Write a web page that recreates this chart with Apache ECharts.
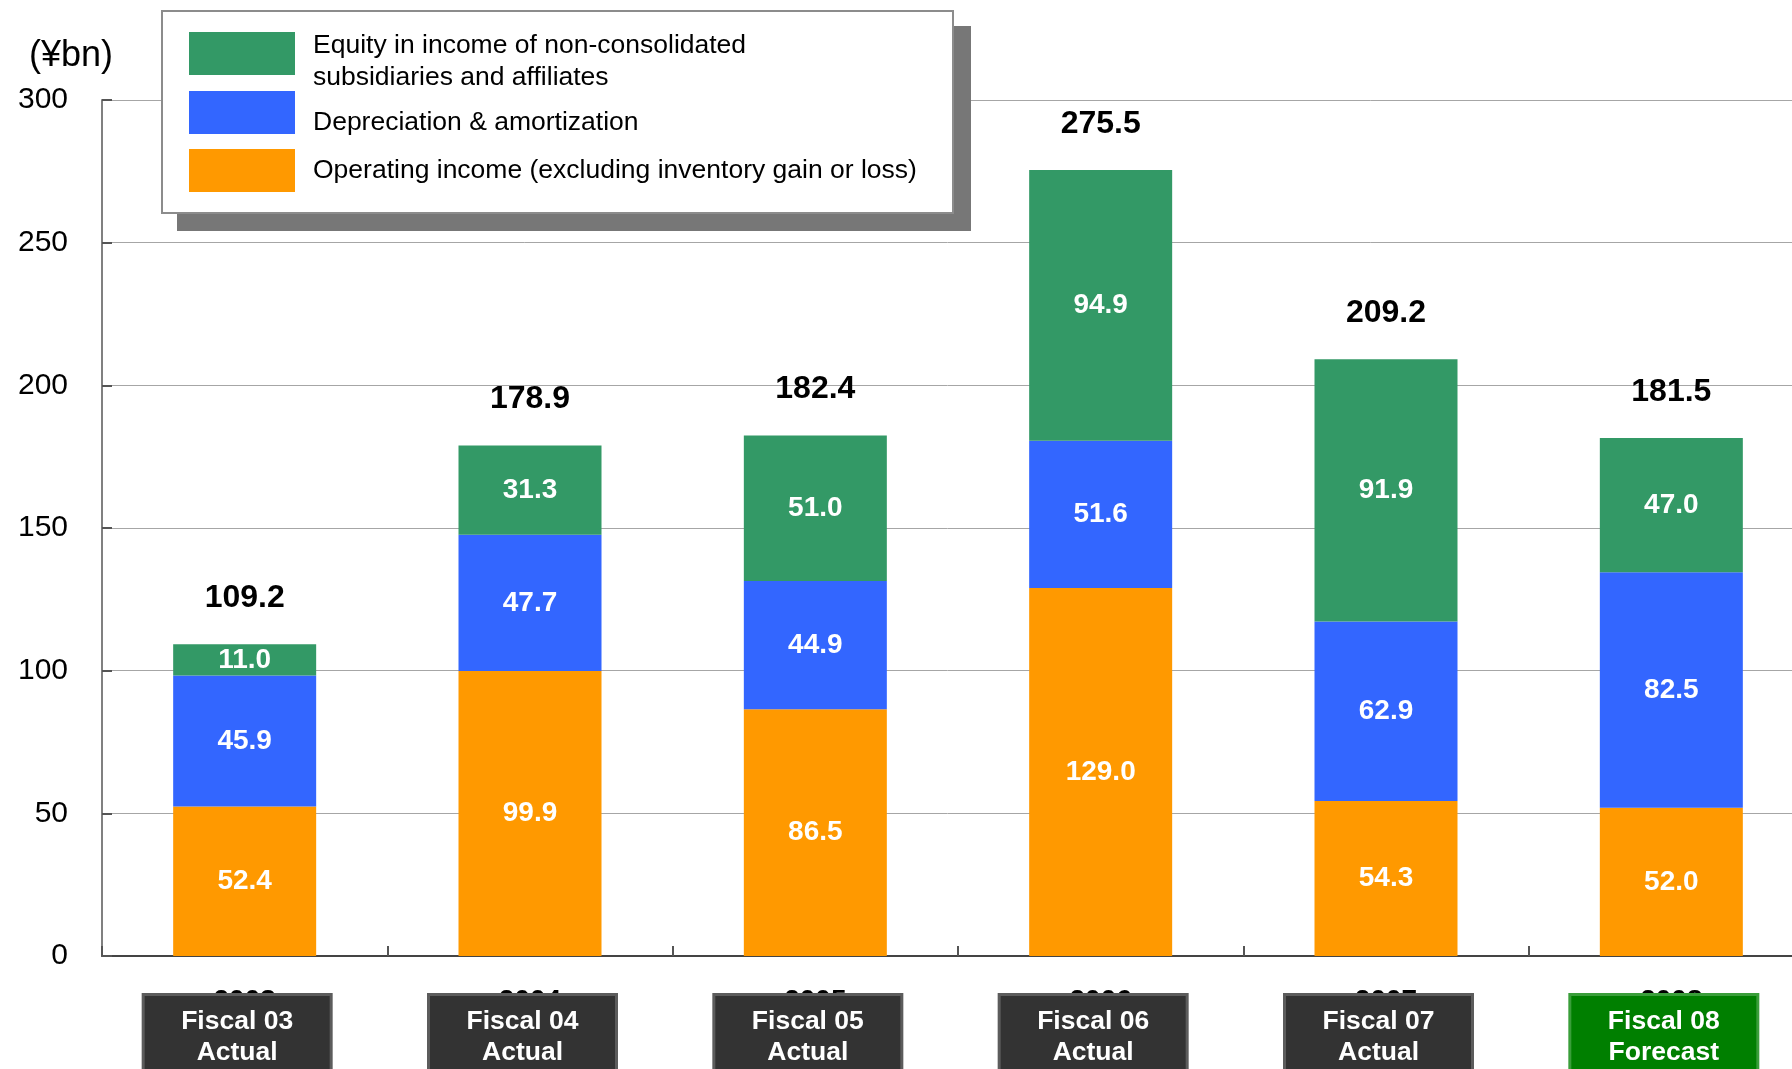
<!DOCTYPE html>
<html>
<head>
<meta charset="utf-8">
<title>Cash flow components</title>
<script src="https://cdn.jsdelivr.net/npm/echarts@6/dist/echarts.min.js"></script>
<style>
  html, body { margin: 0; padding: 0; background: #fff; overflow: hidden; }
  #chart { width: 1792px; height: 1069px; }
</style>
</head>
<body>
<div id="chart"></div>
<script>
// Fiscal years and their captions
const years = ['2003', '2004', '2005', '2006', '2007', '2008'];
const captions = ['Fiscal 03\nActual', 'Fiscal 04\nActual', 'Fiscal 05\nActual',
                  'Fiscal 06\nActual', 'Fiscal 07\nActual', 'Fiscal 08\nForecast'];
const forecastFlags = [false, false, false, false, false, true];

// Components (¥bn)
const operatingIncome = [52.4, 99.9, 86.5, 129.0, 54.3, 52.0];
const depreciation = [45.9, 47.7, 44.9, 51.6, 62.9, 82.5];
const equityIncome = [11.0, 31.3, 51.0, 94.9, 91.9, 47.0];
const totals = [109.2, 178.9, 182.4, 275.5, 209.2, 181.5];

// Axis ticks
const yTicks = { min: 0, max: 300, interval: 50 };

const NAME_EQUITY = 'Equity in income of non-consolidated\nsubsidiaries and affiliates';
const NAME_DEPR = 'Depreciation & amortization';
const NAME_OP = 'Operating income (excluding inventory gain or loss)';

const FONT = "'Liberation Sans', Arial, sans-serif";
const BAR_W = 143;

// Legend swatch: a 106x43 block drawn at the top of a taller icon box,
// so the caption (centred on the box) sits a little below the swatch centre.
function swatchIcon(boxHeight) {
  return 'path://M0,0L106,0L106,43L0,43Z M0,' + boxHeight + 'L0,' + boxHeight;
}
function legendEntry(name, top, boxHeight) {
  return {
    orient: 'vertical',
    left: 189,
    top: top,
    padding: 0,
    itemWidth: 106,
    itemHeight: boxHeight,
    icon: swatchIcon(boxHeight),
    z: 20,
    selectedMode: false,
    data: [name],
    textStyle: {
      fontFamily: FONT,
      fontSize: 26.5,
      color: '#000',
      lineHeight: 32,
      padding: [0, 0, 0, 13]
    }
  };
}

const innerLabel = {
  show: true,
  position: 'inside',
  color: '#fff',
  fontFamily: FONT,
  fontWeight: 'bold',
  fontSize: 28,
  formatter: p => p.value.toFixed(1)
};

const captionData = captions.map((c, i) => ({
  value: c,
  textStyle: forecastFlags[i]
    ? { backgroundColor: '#007f00', borderColor: '#3a9e3a' }
    : { backgroundColor: '#333333', borderColor: '#5c5c5c' }
}));

const chart = echarts.init(document.getElementById('chart'), null, { renderer: 'canvas' });

chart.setOption({
  animation: false,
  backgroundColor: '#ffffff',
  grid: [
    { left: 102, top: 100, width: 1712, height: 856, outerBoundsMode: 'none', containLabel: false },
    // caption boxes sit slightly left of the category centres
    { left: 94.5, top: 100, width: 1712, height: 856, outerBoundsMode: 'none', containLabel: false }
  ],
  legend: [
    legendEntry(NAME_EQUITY, 30, 60),
    legendEntry(NAME_DEPR, 91, 64),
    legendEntry(NAME_OP, 149, 43)
  ],
  graphic: [
    { type: 'rect', z: 10, shape: { x: 177, y: 26, width: 794, height: 205 },
      style: { fill: '#777777' } },
    { type: 'rect', z: 11, shape: { x: 162, y: 11, width: 791, height: 202 },
      style: { fill: '#ffffff', stroke: '#8c8c8c', lineWidth: 2 } }
  ],
  xAxis: [
    {
      type: 'category',
      gridIndex: 0,
      data: years,
      position: 'bottom',
      axisLine: { lineStyle: { color: '#444', width: 2 } },
      axisTick: { show: true, inside: true, length: 10, lineStyle: { color: '#555', width: 2 } },
      axisLabel: {
        margin: 31,
        fontFamily: FONT,
        fontWeight: 'bold',
        fontSize: 28,
        color: '#000'
      },
      splitLine: { show: false }
    },
    {
      type: 'category',
      gridIndex: 1,
      data: captionData,
      position: 'bottom',
      z: 5,
      axisLine: { show: false },
      axisTick: { show: false },
      splitLine: { show: false },
      axisLabel: {
        margin: 40,
        fontFamily: FONT,
        fontWeight: 'bold',
        fontSize: 26.5,
        lineHeight: 31,
        color: '#fff',
        width: 185,
        align: 'center',
        padding: [10, 0, 30, 0],
        borderWidth: 3
      }
    }
  ],
  yAxis: [
    {
      type: 'value',
      gridIndex: 0,
      min: yTicks.min,
      max: yTicks.max,
      interval: yTicks.interval,
      name: '(¥bn)',
      nameLocation: 'end',
      nameGap: 26,
      nameTextStyle: {
        fontFamily: FONT,
        fontSize: 36,
        color: '#000',
        align: 'center',
        padding: [0, 62, 0, 0]
      },
      axisLine: { show: true, lineStyle: { color: '#808080', width: 2 } },
      axisTick: { show: true, inside: true, length: 10, lineStyle: { color: '#555', width: 2 } },
      axisLabel: { margin: 34, fontFamily: FONT, fontSize: 30, color: '#000' },
      splitLine: { show: true, lineStyle: { color: '#a6a6a6', width: 1 } }
    },
    {
      type: 'value',
      gridIndex: 1,
      show: false,
      min: yTicks.min,
      max: yTicks.max,
      interval: yTicks.interval,
      splitLine: { show: false }
    }
  ],
  series: [
    {
      name: NAME_OP,
      type: 'bar',
      stack: 'total',
      barWidth: BAR_W,
      z: 3,
      itemStyle: { color: '#FF9900' },
      label: innerLabel,
      data: operatingIncome
    },
    {
      name: NAME_DEPR,
      type: 'bar',
      stack: 'total',
      barWidth: BAR_W,
      z: 3,
      itemStyle: { color: '#3366FF' },
      label: innerLabel,
      data: depreciation
    },
    {
      name: NAME_EQUITY,
      type: 'bar',
      stack: 'total',
      barWidth: BAR_W,
      z: 3,
      itemStyle: { color: '#339966' },
      label: innerLabel,
      data: equityIncome
    },
    {
      name: 'Total',
      type: 'bar',
      barWidth: BAR_W,
      barGap: '-100%',
      silent: true,
      z: 1,
      itemStyle: { color: 'rgba(0,0,0,0)' },
      label: {
        show: true,
        position: 'top',
        distance: 30,
        color: '#000',
        fontFamily: FONT,
        fontWeight: 'bold',
        fontSize: 32,
        formatter: p => p.value.toFixed(1)
      },
      data: totals
    }
  ]
});
</script>
</body>
</html>
